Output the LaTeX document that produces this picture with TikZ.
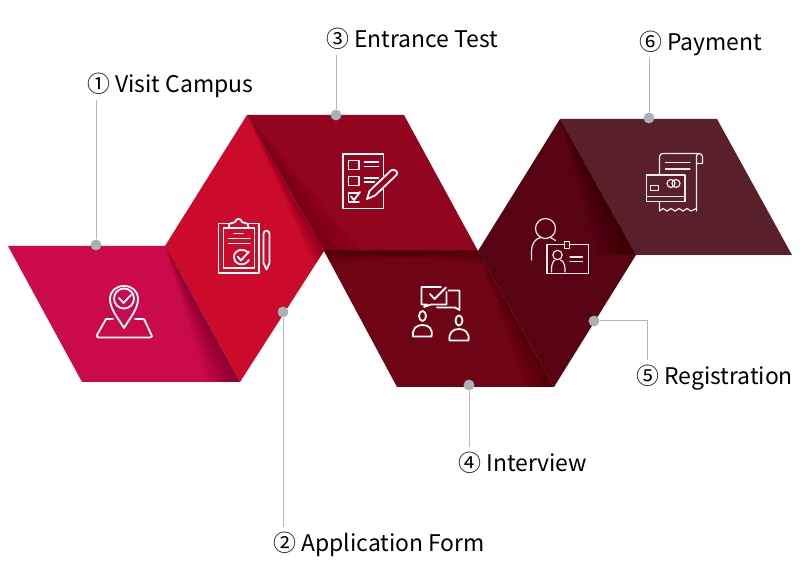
\documentclass[tikz,border=0pt]{standalone}
\usepackage{fontspec}
\setmainfont{Noto Sans CJK KR}
\usetikzlibrary{calc}
\definecolor{cA}{HTML}{CB0A4B}
\definecolor{cB}{HTML}{CC0A2C}
\definecolor{cC}{HTML}{93051F}
\definecolor{cD}{HTML}{6F0414}
\definecolor{cE}{HTML}{570312}
\definecolor{cF}{HTML}{59202B}
\definecolor{dotc}{HTML}{A9B0BA}
\definecolor{leadc}{HTML}{B2B6BC}
\tikzset{
  dotn/.style={circle,fill=dotc,inner sep=0pt,minimum size=8.2pt},
  leader/.style={draw=leadc,line width=0.75pt},
  lab/.style={anchor=west,inner xsep=0pt,inner ysep=4pt,text height=14.5pt,text depth=1.5pt,font=\fontsize{17.2}{20}\selectfont,text=black},
  ic/.style={draw=white,line width=1.35pt,line join=round,line cap=round},
  icthin/.style={draw=white,line width=0.9pt,line join=round,line cap=round,opacity=.92},
}
% soft fold shadow: nested triangles sharing the side A-B
\newcommand{\foldshade}[4]{%
  \foreach \i in {1,...,14}{%
    \fill[black,opacity=#4] #1 -- #2 -- ($#2!\i/14!#3$) -- cycle;
  }%
}
\begin{document}
\begin{tikzpicture}[x=0.75pt,y=-0.75pt]
\useasboundingbox (0,0) rectangle (800,580);
% panels
\fill[cA] (8,246) -- (165,246) -- (240,382) -- (82,382) -- cycle;
\fill[cF] (560,119) -- (717,119) -- (792,255) -- (636,255) -- cycle;
\fill[cC] (247,115) -- (404,115) -- (478,251) -- (324,251) -- cycle;
\fill[cB] (247,115) -- (324,251) -- (240,382) -- (165,246) -- cycle;
\fill[cD] (324,251) -- (478,251) -- (554,387) -- (397,387) -- cycle;
\fill[cE] (560,119) -- (636,255) -- (554,387) -- (478,251) -- cycle;
% fold shadows
\foldshade{(165,246)}{(240,382)}{(206,382)}{0.024}
\foldshade{(247,115)}{(324,251)}{(314,266)}{0.02}
\foldshade{(247,115)}{(324,251)}{(366,251)}{0.006}
\foldshade{(478,251)}{(324,251)}{(331,264)}{0.016}
\foldshade{(324,251)}{(478,251)}{(485,264)}{0.016}
\foldshade{(478,251)}{(554,387)}{(525,387)}{0.014}
\foldshade{(560,119)}{(636,255)}{(597,255)}{0.022}
% icon 1: map pin
\draw[ic] (124,328) .. controls (118,318) and (110,309) .. (110,299) .. controls (110,291) and (116,286) .. (124,286) .. controls (132,286) and (138,291) .. (138,299) .. controls (138,309) and (130,318) .. (124,328) -- cycle;
\draw[ic] (124,298.5) circle[radius=10];
\draw[ic] (119,298) -- (123.5,303) -- (131,295);
\draw[ic] (113,319) -- (106,319) -- (97,335) .. controls (96,337) and (98,337.5) .. (99,337.5) -- (150,337.5) .. controls (152,337.5) and (152.5,336) .. (151.5,335) -- (144,319) -- (135,319);
% icon 2: clipboard
\draw[ic] (229,223.5) -- (218.5,223.5) -- (218.5,273) -- (259,273) -- (259,223.5) -- (248,223.5);
\draw[ic] (229,228) -- (223.5,228) -- (223.5,268) -- (254.5,268) -- (254.5,228) -- (248,228);
\draw[ic] (229,228) -- (229,224) -- (235,222) .. controls (236,218) and (241,218) .. (242,222) -- (248,224) -- (248,228) -- cycle;
\draw[ic] (234,233.5) -- (243,233.5);
\draw[ic] (228.5,238.5) -- (250,238.5);
\draw[ic] (228.5,243.5) -- (250,243.5);
\draw[ic] (248.5,253) .. controls (243,247) and (234,250) .. (234,257) .. controls (234,265) and (245,267) .. (249,260);
\draw[ic] (237.5,256.5) -- (241,260.5) -- (249,251.5);
\draw[ic] (263.5,234) .. controls (263.5,229.5) and (269.5,229.5) .. (269.5,234) -- (269.5,263) -- (266.5,269.5) -- (263.5,263) -- cycle;
% icon 3: test sheet
\draw[ic] (383.5,184) -- (383.5,208.5) -- (343,208.5) -- (343,154) -- (383.5,154) -- (383.5,176);
\draw[ic] (348.5,160.5) rectangle (359,169.5);
\draw[ic] (348.5,176.5) rectangle (359,185.5);
\draw[ic] (359,193) -- (348.5,193) -- (348.5,202) -- (359,202);
\draw[ic] (351,196.5) -- (354,200) -- (360,192);
\draw[ic] (364.5,162) -- (378.5,162);
\draw[ic] (364.5,166.5) -- (378.5,166.5);
\draw[ic] (364.5,178) -- (378.5,178);
\draw[ic] (364.5,182) -- (374.5,182);
\fill[cC] (367,199) -- (369,190) -- (392,168) -- (397,173) -- (374,196) -- cycle;
\draw[ic] (367,199) -- (369.5,191) -- (391,170.5) .. controls (393.5,168) and (399.5,172) .. (396.5,175) -- (375,195.5) -- cycle;
% icon 4: interview
\draw[ic] (446.5,292) -- (446.5,304.5) -- (431,304.5) -- (424,307) -- (427,304.5) -- (421.5,304.5) -- (421.5,287) -- (441,287);
\draw[ic] (430,294) -- (434.5,299) -- (446,287.5);
\draw[ic] (448.5,290.5) -- (459.5,290.5) -- (459.5,310) -- (455,307.5) -- (437,307.5);
\draw[ic] (422.5,316) ellipse[x radius=3.5,y radius=5];
\draw[ic] (459,320.5) ellipse[x radius=3.5,y radius=5];
\draw[ic] (413,336.5) .. controls (412,329) and (416,325) .. (422.5,325) .. controls (429,325) and (433,329) .. (431.5,336.5) -- cycle;
\draw[ic] (449.5,340.5) .. controls (448.5,333) and (452.5,329) .. (459,329) .. controls (465.5,329) and (469.5,333) .. (468.5,340.5) -- cycle;
% icon 5: registration
\draw[icthin] (545.5,228.5) circle[radius=10];
\draw[icthin] (531.5,260) -- (531.5,251) .. controls (531.5,244) and (535,239) .. (540.5,237.5);
\draw[icthin] (550.5,237.5) -- (555.5,240.5);
\draw[icthin] (547,244.5) rectangle (588.5,273.5);
\draw[icthin,fill=cE] (564.5,241.5) rectangle (569.5,248.5);
\draw[icthin] (557.5,255) circle[radius=4.7];
\draw[icthin] (551.5,272) -- (551.5,269) .. controls (551.5,263) and (554,260.5) .. (555,260);
\draw[icthin] (565,272) -- (565,269) .. controls (565,263) and (562,260.5) .. (560.5,260);
\draw[icthin] (570,257) -- (582.5,257);
\draw[icthin] (570,261.5) -- (582.5,261.5);
% icon 6: payment
\draw[icthin] (659.5,174) -- (659.5,157) .. controls (659.5,154.5) and (661,153.5) .. (663,153.5) -- (699,153.5) .. controls (701,153.5) and (702.5,155) .. (702.5,157) -- (702.5,163.5) -- (696.5,163.5);
\draw[icthin] (699,153.5) .. controls (697,153.5) and (696.5,155) .. (696.5,157) -- (696.5,211);
\draw[icthin] (659.5,201.5) -- (659.5,211) -- (663,208.5) -- (667,211) -- (671,208.5) -- (675,211) -- (679,208.5) -- (683,211) -- (687,208.5) -- (691,211) -- (696.5,208.5);
\draw[icthin] (665.5,162.5) -- (690,162.5);
\draw[icthin] (665.5,169) -- (690,169);
\draw[icthin] (646.5,175) rectangle (685,201.5);
\draw[icthin] (646.5,196.5) -- (685,196.5);
\draw[icthin] (650.5,185.5) rectangle (658.5,190.5);
\draw[icthin] (671,183.5) circle[radius=4];
\draw[icthin] (676,183.5) circle[radius=4];
% dots
\node[dotn] (d1) at (96,245) {};
\node[dotn] (d2) at (283,312) {};
\node[dotn] (d3) at (336,115) {};
\node[dotn] (d4) at (469,385) {};
\node[dotn] (d5) at (594,321) {};
\node[dotn] (d6) at (649,118) {};
% labels
\node[lab] (l1) at (87,84) {① Visit Campus};
\node[lab] (l2) at (273,543) {② Application Form};
\node[lab] (l3) at (326,39) {③ Entrance Test};
\node[lab] (l4) at (458,463) {④ Interview};
\node[lab] (l5) at (636,376) {⑤ Registration};
\node[lab] (l6) at (639,42) {⑥ Payment};
% leaders
\draw[leader] (d1) -- (d1 |- l1.south);
\draw[leader] (d2) -- (d2 |- l2.north);
\draw[leader] (d3) -- (d3 |- l3.south);
\draw[leader] (d4) -- (d4 |- l4.north);
\coordinate (e5) at (647,321);
\draw[leader] (d5) -- (e5) -- (e5 |- l5.north);
\draw[leader] (d6) -- (d6 |- l6.south);
\end{tikzpicture}
\end{document}
